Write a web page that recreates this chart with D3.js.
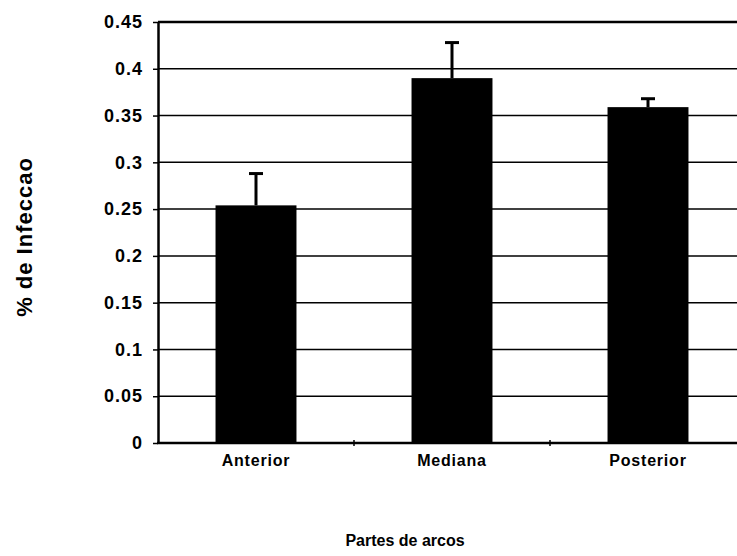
<!DOCTYPE html>
<html>
<head>
<meta charset="utf-8">
<script src="https://cdn.jsdelivr.net/npm/d3@7"></script>
<style>
  html, body { margin: 0; padding: 0; background: #fff; }
  svg { display: block; }
  text { font-family: 'Liberation Sans', Arial, sans-serif; font-weight: bold; fill: #000; }
</style>
</head>
<body>
<script>
var categories = ['Anterior', 'Mediana', 'Posterior'];
var means = [0.254, 0.39, 0.359];
var errors = [0.034, 0.038, 0.009];
var yTicks = [0, 0.05, 0.1, 0.15, 0.2, 0.25, 0.3, 0.35, 0.4, 0.45];

var w = 737,
    h = 556;

var plotLeft = 158,
    plotRight = 746,   // plot runs past the window edge, as in the scan
    plotTop = 22,
    plotBottom = 443;

var svg = d3.select('body').append('svg')
  .attr('width', w)
  .attr('height', h);

var x = d3.scaleBand()
  .domain(categories)
  .range([plotLeft, plotRight])
  .paddingInner(0.587)
  .paddingOuter(0.2935);

var y = d3.scaleLinear()
  .domain([0, 0.45])
  .range([plotBottom, plotTop]);

// gridlines
svg.append('g').selectAll('line')
  .data(yTicks.slice(1))
  .enter()
  .append('line')
    .attr('x1', plotLeft)
    .attr('x2', plotRight)
    .attr('y1', function(d) { return y(d); })
    .attr('y2', function(d) { return y(d); })
    .attr('stroke', '#000')
    .attr('stroke-width', function(d, i) { return i === yTicks.length - 2 ? 2.5 : 1.5; });

// bars
svg.append('g').selectAll('rect')
  .data(means)
  .enter()
  .append('rect')
    .attr('x', function(d, i) { return x(categories[i]); })
    .attr('y', function(d) { return y(d); })
    .attr('width', x.bandwidth())
    .attr('height', function(d) { return plotBottom - y(d); })
    .attr('fill', '#000');

// error bars (upper only)
var err = svg.append('g').attr('stroke', '#000');
err.selectAll('.stem')
  .data(means)
  .enter()
  .append('line')
    .attr('x1', function(d, i) { return x(categories[i]) + x.bandwidth() / 2; })
    .attr('x2', function(d, i) { return x(categories[i]) + x.bandwidth() / 2; })
    .attr('y1', function(d) { return y(d); })
    .attr('y2', function(d, i) { return y(d + errors[i]); })
    .attr('stroke-width', 3);
err.selectAll('.cap')
  .data(means)
  .enter()
  .append('line')
    .attr('x1', function(d, i) { return x(categories[i]) + x.bandwidth() / 2 - 7; })
    .attr('x2', function(d, i) { return x(categories[i]) + x.bandwidth() / 2 + 7; })
    .attr('y1', function(d, i) { return y(d + errors[i]); })
    .attr('y2', function(d, i) { return y(d + errors[i]); })
    .attr('stroke-width', 3);

// y axis
var yAxis = svg.append('g')
  .attr('transform', 'translate(' + plotLeft + ',0)')
  .call(d3.axisLeft(y)
    .tickValues(yTicks)
    .tickFormat(function(d) { return String(d); })
    .tickSize(5)
    .tickSizeOuter(0)
    .tickPadding(10));
yAxis.select('.domain').attr('stroke', '#000').attr('stroke-width', 2.5);
yAxis.selectAll('.tick line').attr('stroke', '#000').attr('stroke-width', 1.5);
yAxis.selectAll('.tick text')
  .attr('font-size', 18)
  .attr('letter-spacing', 1)
  .attr('font-family', null);

// x axis line with ticks between categories
svg.append('line')
  .attr('x1', plotLeft - 1)
  .attr('x2', plotRight)
  .attr('y1', plotBottom)
  .attr('y2', plotBottom)
  .attr('stroke', '#000')
  .attr('stroke-width', 2.5);

svg.append('g').selectAll('line')
  .data(categories.slice(1))
  .enter()
  .append('line')
    .attr('x1', function(d) { return x(d) - x.step() * x.paddingInner() / 2; })
    .attr('x2', function(d) { return x(d) - x.step() * x.paddingInner() / 2; })
    .attr('y1', plotBottom - 3)
    .attr('y2', plotBottom + 3)
    .attr('stroke', '#000')
    .attr('stroke-width', 1.5);

// category labels
svg.append('g').selectAll('text')
  .data(categories)
  .enter()
  .append('text')
    .text(function(d) { return d; })
    .attr('x', function(d) { return x(d) + x.bandwidth() / 2; })
    .attr('y', 466)
    .attr('text-anchor', 'middle')
    .attr('font-size', 16)
    .attr('letter-spacing', 0.8);

// axis titles
svg.append('text')
  .text('Partes de arcos')
  .attr('x', 405)
  .attr('y', 546)
  .attr('text-anchor', 'middle')
  .attr('font-size', 16);

svg.append('text')
  .text('% de Infeccao')
  .attr('transform', 'translate(32,237) rotate(-90)')
  .attr('text-anchor', 'middle')
  .attr('font-size', 22)
  .attr('letter-spacing', 1);
</script>
</body>
</html>
